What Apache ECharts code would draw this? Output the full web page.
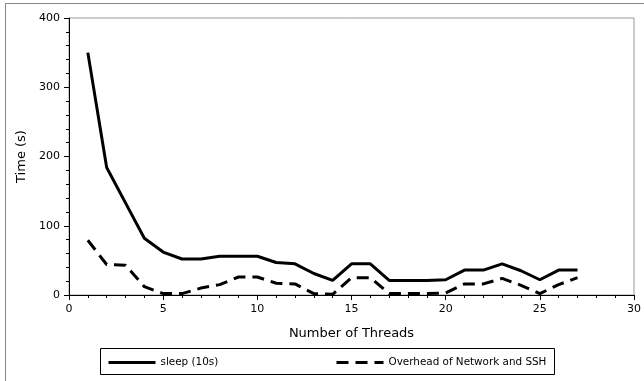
<!DOCTYPE html>
<html>
<head>
<meta charset="utf-8">
<script src="https://cdn.jsdelivr.net/npm/echarts@6/dist/echarts.min.js"></script>
<style>
  html, body { margin: 0; padding: 0; background: #fff; }
  #wrap { position: relative; width: 644px; height: 381px; }
  #frame { position: absolute; left: 5px; top: 3px; right: 0; bottom: 0;
           border-left: 1px solid #888; border-top: 1px solid #888; }
  #chart { position: absolute; left: 0; top: 0; width: 644px; height: 381px; }
</style>
</head>
<body>
<div id="wrap">
  <div id="frame"></div>
  <div id="chart"></div>
</div>
<script>
// threads on the x axis
const threads = [1, 2, 3, 4, 5, 6, 7, 8, 9, 10, 11, 12, 13, 14, 15, 16, 17, 18, 19, 20, 21, 22, 23, 24, 25, 26, 27];
// time in seconds
const sleepTime = [350, 184, 133, 82, 62, 52, 52, 56, 56, 56, 47, 45, 31, 21, 45, 45, 21, 21, 21, 22, 36, 36, 45, 35, 22, 36, 36];
const overheadTime = [79, 44, 43, 12, 2, 2, 10, 15, 26, 26, 17, 16, 2, 1, 25, 25, 2, 2, 2, 3, 16, 16, 24, 14, 2, 15, 25];
const seriesNames = ['sleep (10s)', 'Overhead of Network and SSH'];

const chart = echarts.init(document.getElementById('chart'));
const font = 'DejaVu Sans';

const legendBase = {
  top: 357,
  padding: 0,
  itemWidth: 47, itemHeight: 14, itemGap: 5,
  itemStyle: { opacity: 0 },
  lineStyle: { width: 3 },
  textStyle: { fontSize: 10.4, color: '#000', fontFamily: font }
};

const option = {
  animation: false,
  textStyle: { fontFamily: font, color: '#000' },
  grid: {
    left: 69, right: 10, top: 18, bottom: 86,
    show: true, borderColor: '#999', borderWidth: 1
  },
  xAxis: {
    type: 'value',
    min: 0, max: 30, interval: 5,
    name: 'Number of Threads',
    nameLocation: 'middle',
    nameGap: 32,
    nameTextStyle: { fontSize: 13, color: '#000', fontFamily: font },
    axisLine: { lineStyle: { color: '#000', width: 1 } },
    axisTick: { length: 5, lineStyle: { color: '#000' } },
    minorTick: { show: true, splitNumber: 5, length: 3, lineStyle: { color: '#000' } },
    splitLine: { show: false },
    axisLabel: { fontSize: 11, color: '#000', margin: 9, fontFamily: font }
  },
  yAxis: {
    type: 'value',
    min: 0, max: 400, interval: 100,
    name: 'Time (s)',
    nameLocation: 'middle',
    nameGap: 40,
    nameTextStyle: { fontSize: 13, color: '#000', fontFamily: font },
    axisLine: { show: true, lineStyle: { color: '#000', width: 1 } },
    axisTick: { show: true, length: 5, lineStyle: { color: '#000' } },
    minorTick: { show: true, splitNumber: 5, length: 3, lineStyle: { color: '#000' } },
    splitLine: { show: false },
    axisLabel: { fontSize: 11, color: '#000', margin: 9, fontFamily: font }
  },
  legend: [
    Object.assign({ data: [seriesNames[0]], left: 107 }, legendBase),
    Object.assign({ data: [seriesNames[1]], left: 335 }, legendBase)
  ],
  graphic: [{
    type: 'rect',
    shape: { x: 100.5, y: 348.5, width: 454, height: 26 },
    style: { fill: 'none', stroke: '#000', lineWidth: 1 },
    silent: true
  }],
  series: [
    {
      name: seriesNames[0],
      type: 'line',
      data: threads.map((t, i) => [t, sleepTime[i]]),
      symbol: 'none',
      lineStyle: { color: '#000', width: 3 },
      itemStyle: { color: '#000' }
    },
    {
      name: seriesNames[1],
      type: 'line',
      data: threads.map((t, i) => [t, overheadTime[i]]),
      symbol: 'none',
      lineStyle: { color: '#000', width: 3, type: [12, 7] },
      itemStyle: { color: '#000' }
    }
  ]
};

chart.setOption(option);
</script>
</body>
</html>
